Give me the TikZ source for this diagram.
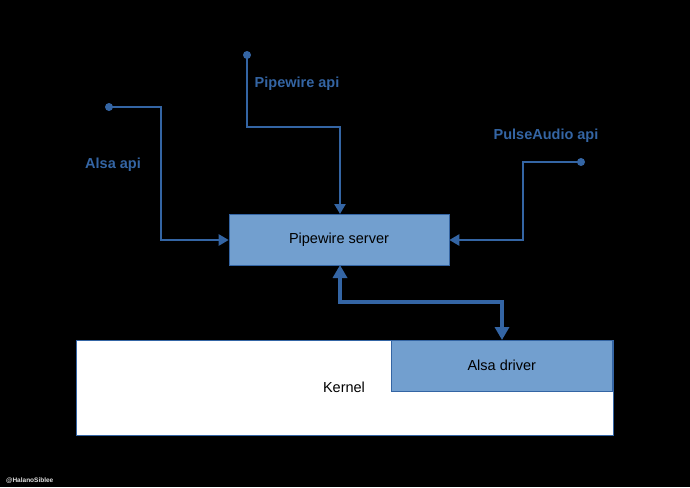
\documentclass[tikz,border=0pt]{standalone}
\usepackage{fontspec}
\setmainfont{Liberation Sans}
\usetikzlibrary{arrows.meta}
\definecolor{lineblue}{HTML}{3465A4}
\definecolor{fillblue}{HTML}{729FCF}
\tikzset{
  box/.style={draw=lineblue, line width=0.6pt, fill=fillblue, minimum width=220pt, minimum height=51pt, inner sep=0pt, font=\fontsize{14.5}{17}\selectfont},
  link/.style={draw=lineblue, line width=2.4pt, -{Triangle[length=10pt,width=11pt]}},
  thick link/.style={draw=lineblue, line width=4.2pt, {Triangle[length=13pt,width=14pt]}-{Triangle[length=13pt,width=14pt]}},
  apilabel/.style={text=lineblue, font=\bfseries\fontsize{14.5}{17}\selectfont, inner sep=0pt},
  enddot/.style={fill=lineblue, draw=none},
}
\begin{document}
\begin{tikzpicture}[x=1pt,y=-1pt]
\fill[black] (0,0) rectangle (690,487);
\useasboundingbox (0,0) rectangle (690,487);
% kernel
\node[draw=lineblue, line width=0.6pt, fill=white, minimum width=537pt, minimum height=95pt, inner sep=0pt, anchor=north west] (kernel) at (76,340) {};
\node[font=\fontsize{14.5}{17}\selectfont, inner sep=0pt] (kerneltext) at (344,387) {Kernel};
\node[box, minimum width=221pt, anchor=north west] (alsa) at (391,340) {Alsa driver};
\node[box] (server) at (339,240) {Pipewire server};
% end points
\coordinate (alsaapi) at (109,107);
\coordinate (pwapi) at (247,55);
\coordinate (paapi) at (581,162);
\fill[enddot] (alsaapi) circle (4pt);
\fill[enddot] (pwapi) circle (4pt);
\fill[enddot] (paapi) circle (4pt);
% connectors
\draw[link] (alsaapi) -- (161,107) -- (161,240) -- (server.west);
\draw[link] (pwapi) -- (247,127) -- (340,127) -- (340,214);
\draw[link] (paapi) -- (523,162) -- (523,240) -- (server.east);
\draw[thick link] (340,265) -- (340,302) -- (502,302) -- (502,340);
% labels
\node[apilabel] (l1) at (113,165) {Alsa api};
\node[apilabel] (l2) at (297,84) {Pipewire api};
\node[apilabel] (l3) at (546,136) {PulseAudio api};
\node[text=white!80!gray, font=\bfseries\fontsize{6.5}{8}\selectfont, inner sep=0pt, anchor=west] (wm) at (6,481) {@HalanoSiblee};
\end{tikzpicture}
\end{document}
